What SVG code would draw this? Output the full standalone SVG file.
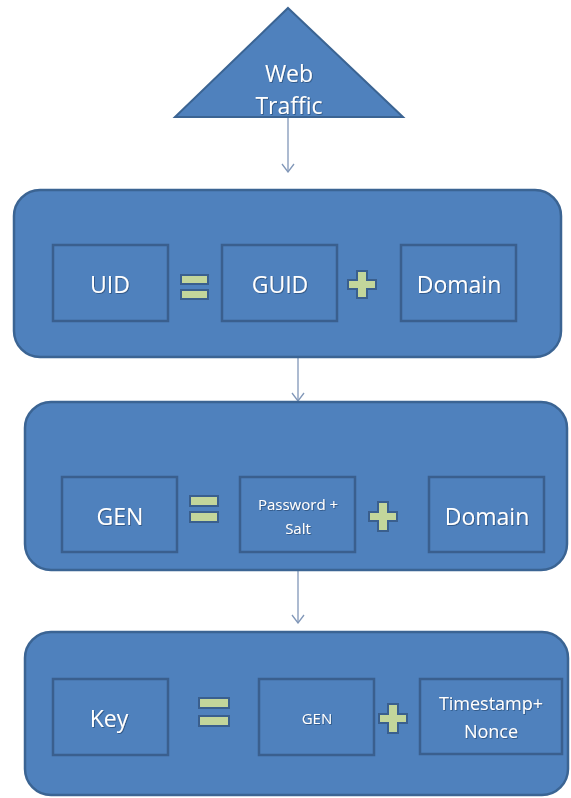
<svg xmlns="http://www.w3.org/2000/svg" width="571" height="798" viewBox="0 0 571 798">
  <defs>
    <marker id="vhead" viewBox="0 0 10 14" refX="9" refY="7" markerWidth="10" markerHeight="14" markerUnits="userSpaceOnUse" orient="auto">
      <path d="M1,1 L9,7 L1,13" fill="none" stroke="#8197b8" stroke-width="1.3"/>
    </marker>
    <filter id="tshadow" x="-10%" y="-10%" width="120%" height="130%">
      <feDropShadow dx="0.8" dy="0.8" stdDeviation="0.5" flood-color="#1f3a63" flood-opacity="0.7"/>
    </filter>
  </defs>
  <style>
    .panel { fill: #4f81bd; stroke: #3b6493; stroke-width: 2.5; }
    .cell { fill: #4f81bd; stroke: #3a5f8e; stroke-width: 2.5; }
    .op { fill: #c3d69b; stroke: #3a5f8e; stroke-width: 2; }
    .lbl { fill: #ffffff; font-family: "Open Sans", "Noto Sans", sans-serif; text-anchor: middle; dominant-baseline: central; filter: url(#tshadow); }
    .conn { fill: none; stroke: #8197b8; stroke-width: 1.3; marker-end: url(#vhead); }
  </style>
  <rect width="571" height="798" fill="#ffffff"/>

  <!-- flow connectors -->
  <g id="connectors">
    <line class="conn" x1="288" y1="118" x2="288" y2="172"/>
    <line class="conn" x1="298" y1="358" x2="298" y2="401"/>
    <line class="conn" x1="298" y1="571" x2="298" y2="623"/>
  </g>

  <!-- source -->
  <g id="web-traffic">
    <polygon points="288,8 403,117 175,117" fill="#4f81bd" stroke="#3b6493" stroke-width="2"/>
    <text class="lbl" x="289" y="73" font-size="23">Web</text>
    <text class="lbl" x="289" y="105" font-size="23">Traffic</text>
  </g>

  <!-- stage 1: UID -->
  <g id="stage-uid">
    <rect class="panel" x="14" y="190" width="547" height="167" rx="26"/>
    <g id="uid">
      <rect class="cell" x="53" y="245" width="115" height="76"/>
      <text class="lbl" x="110" y="284" font-size="23">UID</text>
    </g>
    <g id="uid-eq">
      <rect class="op" x="181" y="275" width="27" height="9"/>
      <rect class="op" x="181" y="290" width="27" height="9"/>
    </g>
    <g id="guid">
      <rect class="cell" x="222" y="245" width="115" height="76"/>
      <text class="lbl" x="280" y="284" font-size="23">GUID</text>
    </g>
    <g id="uid-plus">
      <path class="op" d="M357,271 h10 v9 h9 v9 h-9 v9 h-10 v-9 h-9 v-9 h9 z"/>
    </g>
    <g id="uid-domain">
      <rect class="cell" x="401" y="245" width="115" height="76"/>
      <text class="lbl" x="459" y="284" font-size="23">Domain</text>
    </g>
  </g>

  <!-- stage 2: GEN -->
  <g id="stage-gen">
    <rect class="panel" x="25" y="402" width="542" height="168" rx="26"/>
    <g id="gen">
      <rect class="cell" x="62" y="477" width="115" height="75"/>
      <text class="lbl" x="120" y="516" font-size="23">GEN</text>
    </g>
    <g id="gen-eq">
      <rect class="op" x="190" y="496" width="28" height="10"/>
      <rect class="op" x="190" y="512" width="28" height="10"/>
    </g>
    <g id="password-salt">
      <rect class="cell" x="240" y="477" width="115" height="75"/>
      <text class="lbl" x="298" y="504" font-size="15">Password +</text>
      <text class="lbl" x="298" y="528" font-size="15">Salt</text>
    </g>
    <g id="gen-plus">
      <path class="op" d="M378,502 h10 v10 h9 v9 h-9 v10 h-10 v-10 h-9 v-9 h9 z"/>
    </g>
    <g id="gen-domain">
      <rect class="cell" x="429" y="477" width="115" height="75"/>
      <text class="lbl" x="487" y="516" font-size="23">Domain</text>
    </g>
  </g>

  <!-- stage 3: Key -->
  <g id="stage-key">
    <rect class="panel" x="25" y="632" width="543" height="163" rx="26"/>
    <g id="key">
      <rect class="cell" x="53" y="679" width="115" height="76"/>
      <text class="lbl" x="109" y="718" font-size="23">Key</text>
    </g>
    <g id="key-eq">
      <rect class="op" x="199" y="698" width="30" height="10"/>
      <rect class="op" x="199" y="716" width="30" height="10"/>
    </g>
    <g id="key-gen">
      <rect class="cell" x="259" y="679" width="115" height="76"/>
      <text class="lbl" x="317" y="718" font-size="15">GEN</text>
    </g>
    <g id="key-plus">
      <path class="op" d="M388,704 h10 v10 h9 v9 h-9 v10 h-10 v-10 h-9 v-9 h9 z"/>
    </g>
    <g id="timestamp-nonce">
      <rect class="cell" x="420" y="679" width="142" height="75"/>
      <text class="lbl" x="491" y="703" font-size="18">Timestamp+</text>
      <text class="lbl" x="491" y="731" font-size="18">Nonce</text>
    </g>
  </g>
</svg>
